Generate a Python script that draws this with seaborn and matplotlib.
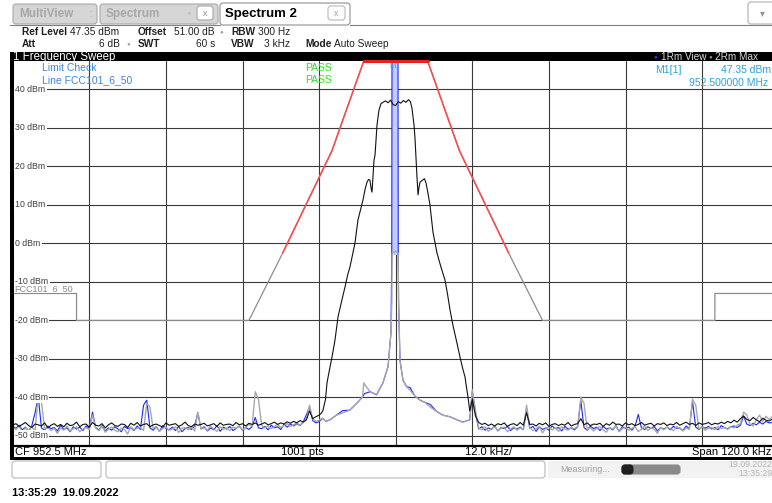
import matplotlib.pyplot as plt
import seaborn as sns
import pandas as pd
import numpy as np
from matplotlib.patches import Rectangle, FancyBboxPatch

#%% Data %%#
#================================#
ref_level = 47.35
cf_mhz = 952.5
span_khz = 120.0
n_pts = 1001
marker_mhz = 952.5
marker_dbm = 47.35
ytick_vals = [40, 30, 20, 10, 0, -10, -20, -30, -40, -50]

#---- sweep grid for the noise floor on each side of the carrier ----#
freq_lo = np.arange(-60, -11.9, 0.5)   # -60 .. -12 kHz
freq_hi = np.arange(12, 59.01, 0.5)    # 12 .. 59 kHz

#---- black trace ----#
black_lo = [-47.2, -46.8, -47.5, -47.0, -46.5, -47.3, -47.8, -46.9, -47.1, -47.4,
            -46.6, -47.9, -47.2, -46.8, -47.5, -47.0, -47.6, -46.7, -47.3, -47.1,
            -46.4, -47.6, -47.0, -46.9, -47.7, -46.5, -47.2, -47.4, -46.8, -47.9,
            -47.1, -46.6, -47.3, -47.5, -46.9, -47.0, -47.8, -46.7, -47.2, -46.5,
            -47.4, -47.0, -46.8, -47.6, -47.1, -46.9, -47.3, -47.7, -46.6, -47.2,
            -47.0, -46.8, -47.5, -47.1, -46.4, -47.3, -47.6, -46.9, -47.2, -47.0,
            -46.7, -47.4, -47.1, -46.8, -47.5, -46.6, -47.2, -47.0, -46.9, -47.3,
            -46.5, -47.1, -46.8, -47.4, -46.7, -47.0, -46.6, -47.2, -46.9, -46.5,
            -47.1, -46.8, -46.4, -47.0, -46.6, -46.9, -46.3, -46.7, -46.2, -46.6,
            -46.0, -46.4, -45.8, -43.5, -45.5, -45.0, -44.6]
black_sig_khz = [-11.6, -11.39, -11.0, -10.76, -10.4, -9.98, -9.51, -9.04, -8.5, -7.94,
                 -7.5, -7.16, -6.8, -6.38, -5.91, -5.5, -5.12, -4.8, -4.5, -4.25,
                 -4.03, -3.85, -3.71, -3.55, -3.4, -3.24, -2.93, -2.62, -2.3, -2.0,
                 -1.6, -1.2, -0.8, -0.4, 0.0, 0.4, 0.8, 1.2, 1.6, 2.0,
                 2.3, 2.55, 2.87, 3.02, 3.34, 3.5, 3.65, 3.81, 4.28, 4.5,
                 4.75, 5.0, 5.37, 5.84, 6.15, 6.47, 7.1, 7.72, 8.1, 8.51,
                 9.0, 9.6, 10.07, 10.5, 10.86, 11.1, 11.33, 11.6]
black_sig_dbm = [-44.0, -43.3, -40.5, -36.2, -33.0, -29.5, -25.1, -19.1, -15.2, -11.3,
                 -8.0, -6.1, -3.2, 0.1, 6.1, 8.8, 11.3, 14.0, 15.9, 16.6,
                 16.4, 14.2, 13.3, 17.5, 21.6, 22.9, 30.7, 34.6, 36.3, 36.6,
                 37.0, 36.5, 37.2, 36.0, 35.8, 36.8, 36.4, 37.1, 36.6, 37.3,
                 36.8, 35.1, 30.7, 27.4, 17.0, 12.6, 14.5, 15.9, 16.5, 16.8,
                 15.7, 13.5, 10.0, 2.9, 0.2, -2.5, -6.2, -9.5, -13.0, -17.3,
                 -21.5, -25.9, -29.5, -32.5, -34.7, -37.5, -39.9, -43.5]
black_hi = [-40.5, -44.8, -46.5, -47.0, -46.7, -47.3, -46.9, -47.4, -46.8, -47.1,
            -46.6, -47.5, -47.0, -46.8, -47.3, -46.5, -47.2, -44.0, -47.0, -46.9,
            -47.4, -46.7, -47.1, -46.6, -47.5, -47.0, -46.8, -47.3, -46.9, -47.2,
            -46.5, -47.4, -47.0, -46.8, -45.5, -47.1, -46.6, -47.3, -46.9, -47.0,
            -46.7, -47.5, -46.8, -47.2, -46.4, -47.0, -46.9, -47.4, -46.6, -47.1,
            -46.8, -47.3, -47.0, -46.5, -47.2, -46.9, -46.7, -47.4, -46.8, -47.0,
            -46.6, -47.3, -46.9, -47.1, -46.5, -47.2, -46.8, -46.4, -47.0, -46.7,
            -47.3, -46.6, -47.0, -46.8, -46.5, -47.1, -46.7, -46.9, -46.4, -46.8,
            -46.2, -46.6, -45.9, -46.4, -45.5, -44.8, -45.7, -46.0, -45.2, -45.8,
            -46.3, -45.4, -45.9, -46.1, -45.6]

#---- gray trace (2Rm Max) ----#
gray_lo = [-47.8, -48.3, -47.5, -48.9, -47.9, -48.4, -47.6, -48.8, -39.5, -41.0,
           -48.2, -47.7, -48.6, -48.0, -49.3, -47.9, -48.5, -47.4, -48.7, -48.1,
           -47.6, -48.9, -48.2, -47.8, -48.4, -44.5, -48.0, -48.6, -47.5, -49.0,
           -48.3, -47.7, -48.5, -48.9, -47.9, -48.2, -49.5, -47.6, -48.4, -48.0,
           -47.8, -48.6, -41.5, -42.5, -48.1, -47.5, -48.8, -48.0, -47.7, -48.5,
           -48.2, -47.6, -49.1, -48.0, -47.8, -48.4, -47.5, -48.7, -43.8, -48.1,
           -47.9, -48.5, -47.4, -48.2, -48.8, -47.6, -48.3, -47.9, -48.6, -47.7,
           -48.0, -47.5, -48.4, -47.8, -46.9, -47.6, -38.5, -40.5, -47.2, -47.9,
           -47.4, -48.1, -47.6, -47.0, -47.8, -47.3, -46.8, -47.5, -47.1, -46.6,
           -47.2, -46.5, -45.8, -42.0, -45.6, -46.2, -45.9]
gray_mid_khz = [-11.5, -10.9, -10.3, -9.3, -8.3, -7.2, -6.1, -5.2, -5.0, -4.7,
                -4.0, -3.0, -2.0, -1.2, -0.74, -0.6, -0.56, 0.0, 0.38, 0.45,
                0.67, 1.14, 1.7, 2.24, 3.0, 3.8, 4.6, 5.4, 6.4, 7.4,
                8.5, 9.6, 10.5, 11.6]
gray_mid_dbm = [-45.4, -46.2, -45.8, -44.6, -44.0, -43.3, -41.5, -39.9, -36.2, -37.0,
                -38.5, -39.3, -36.2, -32.0, -23.2, -14.7, -2.5, -2.0, -2.6, -15.0,
                -30.3, -35.5, -37.2, -38.1, -39.6, -40.7, -41.3, -42.5, -43.6, -44.6,
                -45.0, -45.8, -46.4, -45.8]
gray_hi = [-38.0, -43.5, -47.9, -48.4, -47.6, -48.8, -48.1, -47.5, -48.6, -48.0,
           -47.7, -48.9, -48.2, -47.6, -48.5, -47.9, -48.3, -42.0, -47.8, -48.6,
           -48.1, -47.5, -49.2, -48.0, -47.7, -48.4, -47.9, -48.8, -47.6, -48.2,
           -48.5, -47.8, -48.1, -47.5, -40.0, -41.5, -48.3, -47.9, -48.7, -48.0,
           -47.6, -48.4, -49.0, -47.8, -48.2, -47.5, -48.9, -48.1, -47.7, -48.5,
           -48.0, -47.6, -48.8, -48.3, -47.4, -48.6, -47.9, -48.2, -49.3, -47.8,
           -48.4, -47.7, -48.1, -48.6, -47.5, -48.0, -48.7, -47.9, -48.3, -40.4,
           -42.0, -48.2, -47.6, -48.5, -48.0, -47.8, -48.4, -47.5, -48.1, -47.7,
           -48.3, -47.6, -47.9, -47.2, -46.8, -43.8, -44.5, -46.9, -47.4, -45.8,
           -44.6, -46.2, -44.9, -45.7, -45.0]

#---- blue trace (1Rm View) with the carrier ----#
carrier_khz = [-0.58, 0.36]
blue_lo = [-47.5, -48.0, -47.2, -48.4, -47.7, -48.8, -47.3, -44.0, -39.7, -47.9,
           -48.5, -47.4, -48.1, -47.8, -48.7, -47.2, -48.3, -47.9, -48.9, -47.6,
           -48.2, -47.7, -48.6, -47.4, -48.0, -43.8, -47.8, -48.4, -47.3, -48.7,
           -47.9, -48.5, -47.6, -48.2, -48.9, -47.5, -48.1, -47.8, -48.6, -47.4,
           -48.3, -42.0, -40.7, -47.9, -48.5, -47.6, -48.8, -47.3, -48.0, -48.4,
           -47.7, -48.6, -47.5, -48.9, -48.1, -47.8, -48.3, -47.4, -44.0, -48.2,
           -47.6, -48.7, -47.9, -48.4, -47.3, -48.8, -47.7, -48.2, -47.5, -48.6,
           -48.0, -47.4, -48.5, -47.8, -48.3, -47.6, -45.2, -47.9, -48.1, -47.5,
           -48.4, -47.2, -47.9, -47.6, -48.3, -47.0, -47.7, -46.9, -47.4, -46.8,
           -47.3, -46.4, -44.5, -42.5, -46.0, -46.6, -46.3]
blue_mid_khz = [-11.5, -10.9, -10.3, -9.3, -8.3, -7.2, -6.1, -5.2, -4.9, -4.0,
                -3.0, -2.0, -1.2, -0.74, -0.62, carrier_khz[0], carrier_khz[1], 0.40, 0.45, 0.67,
                1.14, 1.7, 2.24, 3.0, 3.8, 4.6, 5.4, 6.4, 7.4, 8.5,
                9.6, 10.5, 11.6]
blue_mid_dbm = [-45.4, -46.2, -45.8, -44.6, -43.4, -43.3, -41.5, -39.9, -39.0, -38.5,
                -39.3, -36.2, -32.0, -23.2, -3.0, 52.0, 52.0, -3.0, -15.0, -30.3,
                -35.5, -37.2, -37.4, -39.6, -40.7, -41.3, -41.8, -43.6, -44.6, -45.0,
                -45.8, -46.4, -45.8]
blue_hi = [-38.5, -44.0, -48.2, -47.6, -48.5, -47.9, -48.3, -47.4, -48.7, -47.8,
           -48.1, -47.5, -48.6, -47.9, -48.2, -47.7, -48.4, -43.0, -48.0, -47.5,
           -48.8, -47.6, -48.3, -47.9, -48.5, -47.4, -48.1, -47.8, -48.7, -47.5,
           -48.2, -47.9, -48.4, -47.6, -40.8, -47.8, -48.5, -47.4, -48.1, -47.7,
           -48.6, -47.5, -48.2, -47.9, -48.4, -47.3, -48.8, -47.6, -48.0, -47.7,
           -48.5, -47.4, -44.4, -47.9, -48.3, -47.6, -48.1, -47.5, -48.7, -47.8,
           -48.2, -47.7, -48.4, -47.5, -48.0, -47.9, -48.6, -47.4, -48.1, -41.0,
           -47.7, -48.3, -47.6, -48.0, -47.5, -48.2, -47.8, -48.4, -47.3, -47.9,
           -48.1, -47.6, -47.4, -47.8, -47.2, -44.8, -46.9, -47.3, -46.7, -47.1,
           -46.4, -46.9, -46.2, -46.6, -46.5]

#---- limit line FCC101_6_50 ----#
limit_khz = [-60, -50, -50, -23, -17.7, -10, -5.0, 5.0, 10, 17.7, 23, 50, 50, 60]
limit_dbm = [-13, -13, -20, -20, -2.5, 24, 48, 48, 24, -2.5, -20, -20, -13, -13]
limit_red_from = -2.5

#%% Figure %%#
#++================================++#
sns.set_style('white')
plt.rcParams['font.family'] = ['Liberation Sans', 'DejaVu Sans']

W, H = 772, 503
fig = plt.figure(figsize=(W / 100, H / 100), dpi=100)
fig.patch.set_facecolor('white')

def pixel_axes(z):
    a = fig.add_axes([0, 0, 1, 1], zorder=z)
    a.set_xlim(0, W)
    a.set_ylim(H, 0)
    a.axis('off')
    a.patch.set_alpha(0)
    return a

bg = pixel_axes(0)
ax = fig.add_axes([12.7 / W, (H - 446.2) / H, 766 / W, (446.2 - 61) / H], zorder=1)
fg = pixel_axes(2)

#---- Header: tabs ----#
def tab(a, x, y, w, h, fc, ec):
    a.add_patch(FancyBboxPatch((x, y), w, h, boxstyle='round,pad=0,rounding_size=3',
                               fc=fc, ec=ec, lw=0.8))

tab(bg, 13, 4, 84, 20, '#d6d6d6', '#a8a8a8')
tab(bg, 100, 4, 118, 20, '#d6d6d6', '#a8a8a8')
tab(bg, 220, 3, 130, 22, 'white', '#909090')
bg.plot([10, 220], [24.5, 24.5], color='#808080', lw=0.8)
bg.plot([350, 772], [24.5, 24.5], color='#808080', lw=0.8)
bg.text(19, 14, 'MultiView', fontsize=8.5, fontweight='bold', color='#a8a8a8', va='center')
bg.text(88, 14, '::', fontsize=7, color='#b8b8b8', va='center')
bg.text(106, 14, 'Spectrum', fontsize=8.5, fontweight='bold', color='#a8a8a8', va='center')
bg.text(187, 14, '\u25c2', fontsize=5, color='#c0c0c0', va='center')
tab(bg, 197, 6, 16, 14, 'white', '#a8a8a8')
bg.text(205, 13, 'x', fontsize=6.5, color='#909090', ha='center', va='center')
bg.text(225, 14, 'Spectrum 2', fontsize=9.5, fontweight='bold', color='black', va='center')
tab(bg, 328, 6, 17, 14, 'white', '#b8b8b8')
bg.text(336.5, 13, 'x', fontsize=6.5, color='#a0a0a0', ha='center', va='center')
tab(bg, 748, 2, 28, 22, 'white', '#b0b0b0')
bg.text(762, 13, '\u25be', fontsize=7, color='#909090', ha='center', va='center')

#---- Header: settings ----#
hs = dict(fontsize=7.3, va='center', color='#202020')
bg.text(22, 31.5, 'Ref Level', fontweight='bold', **hs)
bg.text(70, 31.5, f'{ref_level:.2f} dBm', **hs)
bg.text(138, 31.5, 'Offset', fontweight='bold', **hs)
bg.text(174, 31.5, '51.00 dB', **hs)
bg.text(221, 31.5, '\u25cf', fontsize=4.5, color='#a0a0a0', va='center', ha='center')
bg.text(231, 31.5, 'RBW', fontweight='bold', **hs)
bg.text(258, 31.5, '300 Hz', **hs)
bg.text(22, 44, 'Att', fontweight='bold', **hs)
bg.text(120, 44, '6 dB', ha='right', **hs)
bg.text(128, 44, '\u25cf', fontsize=4.5, color='#a0a0a0', va='center', ha='center')
bg.text(138, 44, 'SWT', fontweight='bold', **hs)
bg.text(215, 44, '60 s', ha='right', **hs)
bg.text(231, 44, 'VBW', fontweight='bold', **hs)
bg.text(290, 44, '3 kHz', ha='right', **hs)
bg.text(305, 44, 'Mode', fontweight='bold', **hs)
bg.text(334, 44, 'Auto Sweep', **hs)

#---- Black title bar ----#
bg.add_patch(Rectangle((10, 52), 762, 9.5, fc='black', ec='none'))
bg.text(13, 56.7, '1 Frequency Sweep', fontsize=8.3, color='white', va='center')
bg.text(655, 56.7, '\u25cf', fontsize=4.5, color='#2040ff', va='center', ha='center')
bg.text(661, 56.7, '1Rm View', fontsize=7.2, color='#d8d8d8', va='center')
bg.text(710, 56.7, '\u25cf', fontsize=4.5, color='#909090', va='center', ha='center')
bg.text(715, 56.7, '2Rm Max', fontsize=7.2, color='#d8d8d8', va='center')

#---- Traces ----#
black_khz = np.concatenate([freq_lo, black_sig_khz, freq_hi])
black_dbm = np.concatenate([black_lo, black_sig_dbm, black_hi])
gray_khz = np.concatenate([freq_lo, gray_mid_khz, freq_hi])
gray_dbm = np.concatenate([gray_lo, gray_mid_dbm, gray_hi])
blue_khz = np.concatenate([freq_lo, blue_mid_khz, freq_hi])
blue_dbm = np.concatenate([blue_lo, blue_mid_dbm, blue_hi])

lk = dict(estimator=None, sort=False, errorbar=None, ax=ax, legend=False)
ax.fill_betweenx([blue_mid_dbm[14], ref_level], carrier_khz[0], carrier_khz[1],
                 color='#c4ccff', lw=0, zorder=1.5)
sns.lineplot(x=blue_khz, y=blue_dbm, color='#1428ff', lw=0.8, zorder=2, **lk)
sns.lineplot(x=gray_khz, y=gray_dbm, color='#a8a8a8', lw=1.0, zorder=3, **lk)
sns.lineplot(x=black_khz, y=black_dbm, color='#111111', lw=0.8, zorder=4, **lk)

#---- Limit line ----#
lim = pd.DataFrame({'khz': limit_khz, 'dbm': np.minimum(limit_dbm, ref_level)})
sns.lineplot(data=lim, x='khz', y='dbm', color='#8c8c8c', lw=0.9, zorder=2.5, **lk)
red = lim[np.array(limit_dbm) >= limit_red_from]
sns.lineplot(data=red, x='khz', y='dbm', color='#ff4a4a', lw=1.1, zorder=2.6,
             clip_on=False, **lk)
ax.plot(red['khz'].iloc[2:4], [ref_level, ref_level], color='#e82020', lw=2.2,
        clip_on=False, zorder=5)

#---- Grid and axes ----#
ax.set_xlim(-span_khz / 2, span_khz / 2)
ax.set_ylim(ref_level - 100, ref_level)
ax.set_xticks(np.arange(-span_khz / 2, span_khz / 2 + 1, span_khz / 10))
ax.set_yticks(ytick_vals)
ax.tick_params(left=False, bottom=False, labelleft=False, labelbottom=False)
ax.grid(True, color='#3a3a3a', lw=0.8, zorder=0)
ax.set_axisbelow(True)
for s in ['top', 'right', 'left']:
    ax.spines[s].set_visible(False)
ax.spines['bottom'].set_color('black')
ax.spines['bottom'].set_linewidth(1.6)
ax.set_xlabel('')
ax.set_ylabel('')
for v in ytick_vals:
    ax.text(-59.6, v, f'{v} dBm', fontsize=6.3, color='#404040', va='center', ha='left',
            zorder=6, bbox=dict(fc='white', ec='none', pad=0.8))
ax.text(-0.1, ref_level - 0.6, 'M1', fontsize=5.5, color='#48a8e0', ha='center', va='top', zorder=7)

#---- Overlay texts in the diagram ----#
fg.text(42, 68, 'Limit Check', fontsize=7.5, color='#3c86dc', va='center')
fg.text(42, 80, 'Line FCC101_6_50', fontsize=7.5, color='#3c86dc', va='center')
fg.text(305, 68, 'PASS', fontsize=7.5, color='#2ee02e', va='center')
fg.text(305, 80, 'PASS', fontsize=7.5, color='#2ee02e', va='center')
fg.text(655, 70, 'M1[1]', fontsize=7.5, color='#2aa2da', va='center')
fg.text(771, 70, f'{marker_dbm:.2f} dBm', fontsize=7.5, color='#2aa2da', va='center', ha='right')
fg.text(689, 83, f'{marker_mhz:.6f} MHz', fontsize=7.5, color='#2aa2da', va='center')
fg.text(14, 288.5, 'FCC101_6_50', fontsize=6.5, color='#888888', va='center',
        bbox=dict(fc='white', ec='none', pad=0.3))

#---- Frame ----#
fg.add_patch(Rectangle((10, 52), 4, 407, fc='black', ec='none'))
fg.add_patch(Rectangle((10, 457), 762, 2.5, fc='black', ec='none'))
fs = dict(fontsize=8.0, va='center', color='black')
fg.text(15, 452, f'CF {cf_mhz} MHz', **fs)
fg.text(281, 452, f'{n_pts} pts', **fs)
fg.text(465, 452, f'{span_khz / 10:.1f} kHz/', **fs)
fg.text(771, 452, f'Span {span_khz:.1f} kHz', ha='right', **fs)

#---- Status bar ----#
tab(bg, 12, 461, 89, 17, 'white', '#b8b8b8')
tab(bg, 106, 461, 439, 17, 'white', '#b8b8b8')
bg.add_patch(Rectangle((548, 461), 224, 17, fc='#f2f2f2', ec='none'))
bg.text(560, 469.5, 'Measuring...', fontsize=6.5, color='#a0a0a0', va='center')
tab(bg, 622, 465, 58, 9, '#8a8a8a', '#8a8a8a')
tab(bg, 622, 465, 11, 9, '#202020', '#202020')
bg.text(772, 464.5, '19.09.2022', fontsize=6.3, color='#b4b4b4', va='center', ha='right')
bg.text(772, 474, '13:35:29', fontsize=6.3, color='#b4b4b4', va='center', ha='right')
bg.text(12, 493, '13:35:29  19.09.2022', fontsize=8, fontweight='bold', color='black', va='center')

fig.savefig('out.png', dpi=100)
